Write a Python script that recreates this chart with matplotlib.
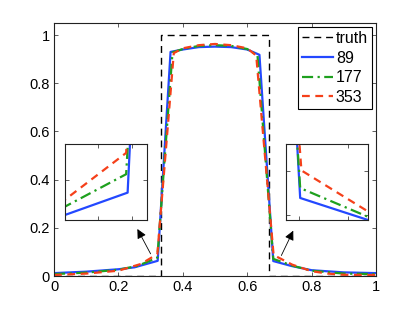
import matplotlib
matplotlib.use('Agg')
import matplotlib.pyplot as plt
import numpy as np

plt.rcParams['font.family'] = ['Liberation Sans', 'DejaVu Sans']

# exact solution
x_truth = [0, 1/3, 1/3, 2/3, 2/3, 1]
y_truth = [0, 0, 1, 1, 0, 0]

# 89 points
x_89 = [0, 0.1, 0.2, 0.25, 0.322, 0.362, 0.40, 0.45, 0.50, 0.55, 0.60, 0.638, 0.681, 0.736, 0.8, 0.9, 1.0]
y_89 = [0.012, 0.018, 0.028, 0.036, 0.063, 0.930, 0.940, 0.950, 0.952, 0.950, 0.940, 0.918, 0.062, 0.042, 0.024, 0.015, 0.012]

# 177 points
x_177 = [0, 0.1, 0.2, 0.26, 0.321, 0.368, 0.40, 0.45, 0.50, 0.55, 0.60, 0.632, 0.681, 0.74, 0.8, 0.9, 1.0]
y_177 = [0.008, 0.014, 0.026, 0.042, 0.076, 0.928, 0.942, 0.955, 0.958, 0.955, 0.942, 0.915, 0.071, 0.043, 0.022, 0.010, 0.008]

# 353 points
x_353 = [0, 0.1, 0.2, 0.27, 0.321, 0.372, 0.40, 0.45, 0.50, 0.55, 0.60, 0.628, 0.682, 0.74, 0.8, 0.85, 0.9, 1.0]
y_353 = [0.004, 0.010, 0.022, 0.050, 0.091, 0.925, 0.945, 0.958, 0.963, 0.958, 0.945, 0.915, 0.087, 0.047, 0.020, 0.010, 0.005, 0.004]

labels = ['truth', '89', '177', '353']
c_blue = '#2348ff'
c_green = '#1ea01e'
c_red = '#f5401a'


def draw_lines(ax, lw=1.6, truth=True):
    if truth:
        ax.plot(x_truth, y_truth, color='k', lw=1.0, dashes=(5, 3.5), label=labels[0])
    ax.plot(x_89, y_89, color=c_blue, lw=lw, label=labels[1])
    ax.plot(x_177, y_177, color=c_green, lw=lw, dashes=(5, 2, 1, 2), label=labels[2])
    ax.plot(x_353, y_353, color=c_red, lw=lw, dashes=(3.5, 2.5), label=labels[3])


def style_axes(ax):
    for s in ax.spines.values():
        s.set_color('#222222')
        s.set_linewidth(0.8)
    ax.tick_params(direction='in', top=True, right=True, length=3, width=0.6, color='#444444')


fig = plt.figure(figsize=(4.15, 3.12), dpi=100)
ax = fig.add_axes([54/415, 36/312, 322/415, 253/312])
draw_lines(ax)
ax.set_xlim(0, 1)
ax.set_ylim(0, 1.05)
ax.set_xticks([0, 0.2, 0.4, 0.6, 0.8, 1])
ax.set_xticklabels(['0', '0.2', '0.4', '0.6', '0.8', '1'])
ax.set_yticks([0, 0.2, 0.4, 0.6, 0.8, 1])
ax.set_yticklabels(['0', '0.2', '0.4', '0.6', '0.8', '1'])
style_axes(ax)
ax.tick_params(labelsize=10.5, pad=3)

leg = ax.legend(loc='upper right', fontsize=11.5, handlelength=1.9, handletextpad=0.2,
                labelspacing=0.29, borderpad=0.25, borderaxespad=0.25,
                fancybox=False, framealpha=1, edgecolor='k')
leg.get_frame().set_linewidth(0.8)

# arrows pointing to the zoomed insets
arrow = dict(arrowstyle='-|>', color='k', lw=0.6, mutation_scale=14, shrinkA=0, shrinkB=0)
ax.annotate('', xy=(0.259, 0.195), xytext=(0.300, 0.092), arrowprops=arrow)
ax.annotate('', xy=(0.743, 0.188), xytext=(0.706, 0.085), arrowprops=arrow)

# left inset
axl = fig.add_axes([65/415, 92/312, 82/415, 76/312])
draw_lines(axl, truth=False)
axl.set_xlim(0.28, 0.335)
axl.set_ylim(0.0437, 0.0973)
axl.set_xticks([0.302, 0.325])
axl.set_yticks([0.072])
axl.set_xticklabels([])
axl.set_yticklabels([])
style_axes(axl)

# right inset
axr = fig.add_axes([286/415, 92/312, 82/415, 76/312])
draw_lines(axr, truth=False)
axr.set_xlim(0.6695, 0.736)
axr.set_ylim(0.042, 0.111)
axr.set_xticks([0.68, 0.72])
axr.set_yticks([0.0466, 0.0868])
axr.set_xticklabels([])
axr.set_yticklabels([])
style_axes(axr)

fig.savefig('out.png', dpi=100)
